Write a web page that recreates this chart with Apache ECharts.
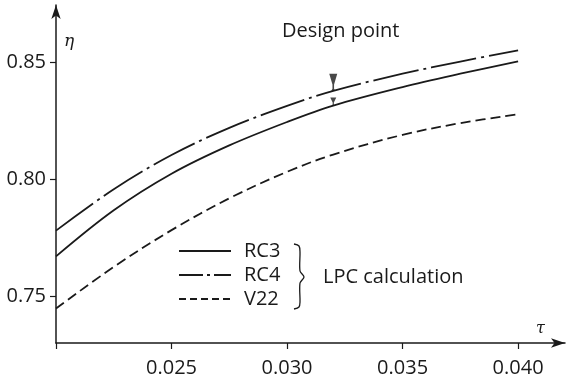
<!DOCTYPE html>
<html>
<head>
<meta charset="utf-8">
<script src="https://cdn.jsdelivr.net/npm/echarts@6.0.0/dist/echarts.min.js"></script>
<style>
  html, body { margin: 0; padding: 0; background: #fff; }
  #chart { width: 567px; height: 383px; }
</style>
</head>
<body>
<div id="chart"></div>
<script>
// Flow coefficient tau (x) and efficiency eta (y) for three compressor designs
const tau = [0.020, 0.0225, 0.025, 0.0275, 0.030, 0.032, 0.035, 0.0375, 0.040];
const rc3 = [0.767, 0.7867, 0.8023, 0.8144, 0.8244, 0.8314, 0.8393, 0.8450, 0.8503];
const rc4 = [0.778, 0.7957, 0.8103, 0.8219, 0.8313, 0.8377, 0.8450, 0.8502, 0.8550];
const v22 = [0.7447, 0.7625, 0.7782, 0.7918, 0.8031, 0.8105, 0.8189, 0.8239, 0.8277];

const seriesNames = ['RC3', 'RC4', 'V22'];
const designTau = 0.032;

// Axis tick labels
const xTickLabels = [0.025, 0.030, 0.035, 0.040];
const xTickMarks = [0.020, 0.025, 0.030, 0.035, 0.040];
const yTickLabels = [0.75, 0.80, 0.85];

const FONT = '"Open Sans", "Noto Sans", sans-serif';
const INK = '#1a1a1a';

const pairs = (ys) => tau.map((t, i) => [t, ys[i]]);
const di = tau.indexOf(designTau);

const chart = echarts.init(document.getElementById('chart'), null, { renderer: 'canvas' });

chart.setOption({
  animation: false,
  backgroundColor: '#fff',
  grid: { left: 56, right: 2, top: 5, bottom: 40 },
  xAxis: {
    type: 'value',
    min: 0.020,
    max: 0.04203,
    splitLine: { show: false },
    axisLine: {
      onZero: false,
      symbol: ['none', 'arrow'],
      symbolSize: [7, 14],
      lineStyle: { color: INK, width: 1.5 }
    },
    axisTick: { customValues: xTickMarks, length: 6, lineStyle: { color: INK, width: 1.2 } },
    axisLabel: {
      customValues: xTickLabels,
      formatter: (v) => v.toFixed(3),
      margin: 15,
      color: INK,
      fontFamily: FONT,
      fontSize: 20
    }
  },
  yAxis: {
    type: 'value',
    min: 0.73,
    max: 0.87436,
    splitLine: { show: false },
    axisLine: {
      onZero: false,
      symbol: ['none', 'arrow'],
      symbolSize: [7, 14],
      lineStyle: { color: INK, width: 1.5 }
    },
    axisTick: { customValues: yTickLabels, length: 6, lineStyle: { color: INK, width: 1.2 } },
    axisLabel: {
      customValues: yTickLabels,
      formatter: (v) => v.toFixed(2),
      margin: 10,
      color: INK,
      fontFamily: FONT,
      fontSize: 20
    }
  },
  legend: {
    data: [
      { name: 'RC3' },
      { name: 'RC4', lineStyle: { type: [24, 4, 3, 4] } },
      { name: 'V22', lineStyle: { type: [7, 4] } }
    ],
    orient: 'vertical',
    left: 178,
    top: 241,
    padding: 0,
    itemWidth: 52,
    itemHeight: 14,
    itemGap: 4,
    itemStyle: { opacity: 0 },
    textStyle: {
      color: INK,
      fontFamily: FONT,
      fontSize: 20,
      lineHeight: 20,
      padding: [0, 0, 0, 8]
    }
  },
  series: [
    {
      name: 'RC3', type: 'line', data: pairs(rc3), smooth: 0.35, symbol: 'none',
      lineStyle: { color: INK, width: 1.8, type: 'solid' },
      itemStyle: { color: INK }
    },
    {
      name: 'RC4', type: 'line', data: pairs(rc4), smooth: 0.35, symbol: 'none',
      lineStyle: { color: INK, width: 1.8, type: [46, 5, 3, 5] },
      itemStyle: { color: INK }
    },
    {
      name: 'V22', type: 'line', data: pairs(v22), smooth: 0.35, symbol: 'none',
      lineStyle: { color: INK, width: 1.8, type: [10, 5] },
      itemStyle: { color: INK }
    },
    {
      name: 'Design point', type: 'scatter', z: 5,
      symbol: 'path://M0,0 L8,0 L4.8,10 L4.8,14 L6,16 L2,16 L3.2,14 L3.2,10 Z',
      itemStyle: { color: INK },
      data: [
        { value: [tau[di], rc4[di]], symbolSize: [8, 17], symbolOffset: [0, -8.5] },
        { value: [tau[di], rc3[di]], symbolSize: [6, 8], symbolOffset: [0, -4] }
      ]
    }
  ],
  graphic: [
    {
      type: 'text', left: 282, top: 21,
      style: { text: 'Design point', fill: INK, font: '20px ' + FONT }
    },
    {
      type: 'text', left: 323, top: 267,
      style: { text: 'LPC calculation', fill: INK, font: '20px ' + FONT }
    },
    {
      type: 'text', left: 64, top: 33,
      style: { text: 'η', fill: INK, font: 'italic 17px "DejaVu Serif", serif' }
    },
    {
      type: 'text', left: 536, top: 321,
      style: { text: 'τ', fill: INK, font: 'italic 16px "DejaVu Serif", serif' }
    },
    {
      type: 'polyline',
      shape: {
        points: [[294, 244], [299, 246], [300, 252], [300, 271], [304, 277],
                 [300, 283], [300, 302], [299, 307], [294, 309]],
        smooth: 0.3
      },
      style: { stroke: INK, lineWidth: 1.3, fill: null }
    }
  ]
});
</script>
</body>
</html>
